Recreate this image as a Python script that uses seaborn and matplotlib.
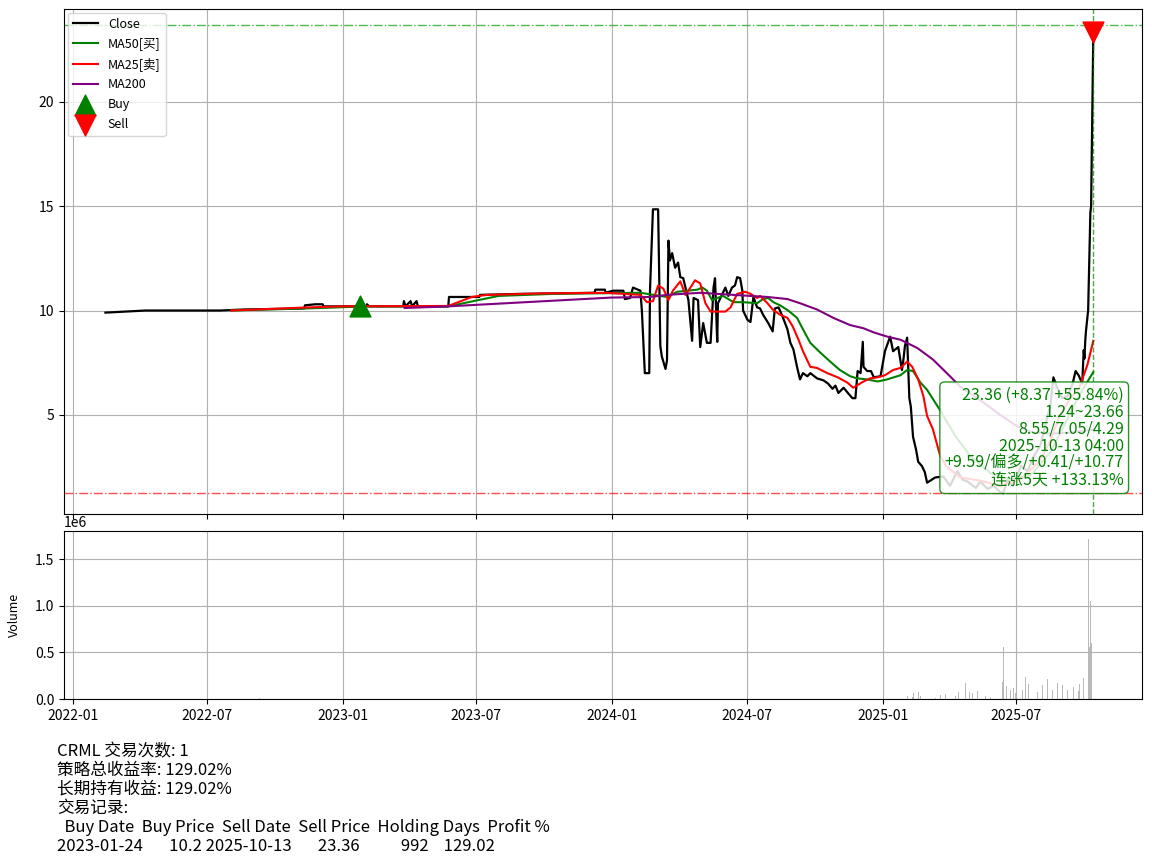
"""CRML price chart with moving averages, trade markers and volume."""
import matplotlib
matplotlib.use("Agg")
import matplotlib.pyplot as plt
import matplotlib.dates as mdates
import pandas as pd
import seaborn as sns

# Close price
close_dates = [
    "2022-02-14", "2022-04-09", "2022-07-19", "2022-08-20", "2022-11-10",
    "2022-11-11", "2022-11-25", "2022-12-05", "2022-12-06", "2023-01-24",
    "2023-02-02", "2023-02-03", "2023-02-06", "2023-03-24", "2023-03-25",
    "2023-03-27", "2023-04-03", "2023-04-05", "2023-04-11", "2023-04-13",
    "2023-05-24", "2023-05-25", "2023-07-05", "2023-07-06", "2023-09-01",
    "2023-12-08", "2023-12-09", "2023-12-22", "2023-12-23",
    "2024-01-02", "2024-01-16", "2024-01-18", "2024-01-25", "2024-01-29",
    "2024-02-08", "2024-02-10", "2024-02-14", "2024-02-20", "2024-02-21",
    "2024-02-25", "2024-03-03", "2024-03-06", "2024-03-08", "2024-03-13",
    "2024-03-15", "2024-03-17", "2024-03-19", "2024-03-22", "2024-03-26",
    "2024-03-30", "2024-04-02", "2024-04-06", "2024-04-13", "2024-04-18",
    "2024-04-20", "2024-04-26", "2024-04-29", "2024-05-03", "2024-05-08",
    "2024-05-13", "2024-05-17", "2024-05-19", "2024-05-22", "2024-05-23",
    "2024-05-29", "2024-06-02", "2024-06-06", "2024-06-11", "2024-06-15",
    "2024-06-18", "2024-06-22", "2024-06-25", "2024-06-26", "2024-07-02",
    "2024-07-06", "2024-07-10", "2024-07-15", "2024-07-19", "2024-07-23",
    "2024-07-30", "2024-08-05", "2024-08-08", "2024-08-13", "2024-08-18",
    "2024-08-25", "2024-08-29", "2024-09-02", "2024-09-07", "2024-09-11",
    "2024-09-15", "2024-09-21", "2024-09-25", "2024-10-04", "2024-10-13",
    "2024-10-19", "2024-10-25", "2024-10-29", "2024-11-02", "2024-11-09",
    "2024-11-16", "2024-11-21", "2024-11-25", "2024-11-28", "2024-12-02",
    "2024-12-05", "2024-12-06", "2024-12-11", "2024-12-16", "2024-12-20",
    "2024-12-29",
    "2025-01-04", "2025-01-08", "2025-01-11", "2025-01-15", "2025-01-22",
    "2025-01-27", "2025-01-29", "2025-01-31", "2025-02-03", "2025-02-06",
    "2025-02-08", "2025-02-11", "2025-02-15", "2025-02-18", "2025-02-23",
    "2025-02-27", "2025-03-02", "2025-03-13", "2025-03-24", "2025-04-02",
    "2025-04-12", "2025-04-19", "2025-04-26", "2025-05-07", "2025-05-13",
    "2025-05-23", "2025-05-31", "2025-06-09", "2025-06-13", "2025-06-19",
    "2025-06-26", "2025-07-07", "2025-07-16", "2025-07-24", "2025-08-02",
    "2025-08-09", "2025-08-16", "2025-08-20", "2025-08-23", "2025-08-25",
    "2025-09-01", "2025-09-08", "2025-09-15", "2025-09-19", "2025-09-23",
    "2025-09-28", "2025-09-30", "2025-10-01", "2025-10-02", "2025-10-03",
    "2025-10-06", "2025-10-07", "2025-10-08", "2025-10-09", "2025-10-10",
    "2025-10-13",
]
close_vals = [
    9.9, 10.0, 10.0, 10.05, 10.1,
    10.25, 10.3, 10.3, 10.2, 10.2,
    10.2, 10.3, 10.2, 10.2, 10.45,
    10.2, 10.45, 10.2, 10.45, 10.2,
    10.2, 10.65, 10.65, 10.75, 10.8,
    10.85, 11.0, 11.0, 10.85,
    10.95, 10.95, 10.55, 10.6, 11.1,
    10.95, 10.0, 7.0, 7.0, 10.95,
    14.85, 14.85, 8.3, 7.8, 7.2,
    7.6, 13.35, 12.4, 12.75, 12.05,
    12.3, 11.6, 11.55, 10.5, 8.55,
    10.6, 10.5, 8.25, 9.4, 8.45,
    8.45, 11.1, 11.55, 8.5, 10.35,
    10.8, 11.1, 10.7, 11.1, 11.2,
    11.6, 11.55, 10.95, 10.0, 9.55,
    9.45, 10.65, 10.15, 10.1, 9.8,
    9.4, 9.0, 10.1, 10.15, 9.75,
    9.1, 8.45, 8.15, 7.3, 6.7,
    7.0, 6.85, 7.0, 6.75, 6.65,
    6.5, 6.25, 6.4, 6.05, 6.3,
    6.0, 5.8, 5.8, 7.1, 7.0,
    8.5, 7.3, 7.1, 7.1, 6.8,
    6.85,
    8.05, 8.45, 8.75, 8.05, 8.25,
    7.15, 7.65, 8.3, 8.7, 5.8,
    5.4, 3.95, 3.35, 2.75, 2.55,
    2.25, 1.75, 2.0, 2.05, 1.6,
    2.3, 1.9, 1.8, 1.5, 1.8,
    1.45, 1.6, 1.3, 1.24, 1.9,
    1.6, 2.55, 2.3, 3.0, 3.5,
    4.5, 5.5, 6.8, 6.5, 6.3,
    5.8, 5.9, 6.5, 7.1, 6.9,
    6.5, 8.1, 7.7, 8.5, 9.0,
    10.02, 11.6, 13.3, 14.7, 14.99,
    23.36,
]

# MA50 (green)
ma50_dates = [
    "2022-08-03", "2022-12-01", "2023-02-01", "2023-05-24", "2023-07-31",
    "2023-10-15", "2024-02-08", "2024-03-15", "2024-03-29", "2024-04-12",
    "2024-04-25", "2024-05-02", "2024-05-08", "2024-05-15", "2024-05-22",
    "2024-05-30", "2024-06-13", "2024-06-26", "2024-07-15", "2024-07-23",
    "2024-07-30", "2024-08-06", "2024-08-15", "2024-08-26", "2024-09-07",
    "2024-09-15", "2024-09-25", "2024-10-08", "2024-10-22", "2024-11-04",
    "2024-11-18", "2024-11-27", "2024-12-11", "2024-12-25", "2025-01-07",
    "2025-01-25", "2025-02-03", "2025-02-11", "2025-02-21", "2025-03-02",
    "2025-03-20", "2025-04-09", "2025-04-30", "2025-05-27", "2025-06-23",
    "2025-07-20", "2025-08-16", "2025-09-05", "2025-09-19", "2025-09-30",
    "2025-10-13",
]
ma50_vals = [
    10.0, 10.12, 10.2, 10.2, 10.7,
    10.8, 10.85, 10.65, 10.9, 10.95,
    11.0, 11.1, 10.95, 10.5, 10.6,
    10.7, 10.4, 10.4, 10.35, 10.55,
    10.6, 10.4, 10.25, 10.0, 9.65,
    9.1, 8.45, 8.0, 7.55, 7.15,
    6.85, 6.75, 6.7, 6.6, 6.7,
    6.9, 7.15, 7.1, 6.55, 6.2,
    5.2, 4.0, 3.0, 2.2, 1.9,
    2.1, 3.2, 4.6, 5.6, 6.3,
    7.05,
]

# MA25 (red)
ma25_dates = [
    "2022-08-03", "2022-11-15", "2023-01-01", "2023-05-24", "2023-06-25",
    "2023-07-15", "2023-10-01", "2023-12-23", "2024-02-08", "2024-02-17",
    "2024-02-25", "2024-03-03", "2024-03-10", "2024-03-17", "2024-03-23",
    "2024-04-02", "2024-04-09", "2024-04-13", "2024-04-22", "2024-04-29",
    "2024-05-06", "2024-05-13", "2024-06-02", "2024-06-09", "2024-06-18",
    "2024-06-29", "2024-07-06", "2024-07-15", "2024-07-19", "2024-07-29",
    "2024-08-05", "2024-08-15", "2024-08-25", "2024-09-01", "2024-09-09",
    "2024-09-15", "2024-09-25", "2024-10-04", "2024-10-18", "2024-11-01",
    "2024-11-14", "2024-11-22", "2024-11-29", "2024-12-06", "2024-12-15",
    "2024-12-25", "2025-01-04", "2025-01-15", "2025-01-25", "2025-02-03",
    "2025-02-10", "2025-02-18", "2025-02-25", "2025-03-02", "2025-03-10",
    "2025-03-20", "2025-03-29", "2025-04-16", "2025-05-13", "2025-06-09",
    "2025-07-06", "2025-08-02", "2025-08-16", "2025-08-29", "2025-09-12",
    "2025-09-24", "2025-10-05", "2025-10-13",
]
ma25_vals = [
    10.0, 10.15, 10.2, 10.22, 10.65,
    10.75, 10.82, 10.85, 10.75, 10.4,
    10.45, 11.2, 11.05, 10.5, 10.95,
    11.4, 10.75, 10.95, 11.45, 11.3,
    10.35, 9.95, 9.95, 10.15, 10.8,
    10.9, 10.8, 10.6, 10.7, 10.35,
    10.05, 9.8, 9.65, 9.25, 8.6,
    8.05, 7.3, 7.25, 7.0, 6.8,
    6.55, 6.3, 6.45, 6.6, 6.75,
    6.8, 6.9, 7.15, 7.25, 7.55,
    7.3, 6.7, 5.9, 4.95, 4.3,
    3.0, 2.5, 2.0, 1.85, 1.6,
    1.9, 2.8, 3.8, 5.0, 5.8,
    6.3, 7.4, 8.55,
]

# MA200 (purple)
ma200_dates = [
    "2023-03-26", "2023-05-24", "2023-12-30", "2024-02-21", "2024-03-15",
    "2024-04-06", "2024-04-29", "2024-06-13", "2024-07-29", "2024-08-25",
    "2024-09-11", "2024-10-04", "2024-10-26", "2024-11-18", "2024-12-06",
    "2024-12-20", "2025-01-07", "2025-01-25", "2025-02-17", "2025-03-10",
    "2025-04-02", "2025-04-16", "2025-05-17", "2025-06-09", "2025-07-02",
    "2025-07-24", "2025-08-16", "2025-09-12", "2025-10-13",
]
ma200_vals = [
    10.12, 10.2, 10.62, 10.65, 10.75,
    10.8, 10.85, 10.75, 10.65, 10.55,
    10.35, 10.05, 9.65, 9.3, 9.15,
    8.95, 8.75, 8.6, 8.2, 7.65,
    6.85, 6.35, 5.6, 5.0, 4.45,
    4.15, 4.1, 4.15, 4.29,
]

# Volume (millions of shares)
vol_dates = [
    "2022-09-11", "2025-02-04", "2025-02-10", "2025-02-12", "2025-02-18",
    "2025-02-21", "2025-03-06", "2025-03-13", "2025-03-20", "2025-03-27",
    "2025-04-02", "2025-04-09", "2025-04-13", "2025-04-23", "2025-04-29",
    "2025-05-03", "2025-05-09", "2025-05-20", "2025-05-27", "2025-06-02",
    "2025-06-12", "2025-06-14", "2025-06-17", "2025-06-23", "2025-06-27",
    "2025-06-30", "2025-07-09", "2025-07-13", "2025-07-17", "2025-07-22",
    "2025-07-29", "2025-08-05", "2025-08-12", "2025-08-19", "2025-08-25",
    "2025-09-01", "2025-09-08", "2025-09-16", "2025-09-23", "2025-09-24",
    "2025-09-30", "2025-10-06", "2025-10-08", "2025-10-09", "2025-10-10",
]
vol_vals = [
    0.01, 0.03, 0.02, 0.06, 0.08,
    0.03, 0.01, 0.01, 0.04, 0.05,
    0.04, 0.03, 0.07, 0.17, 0.08,
    0.06, 0.09, 0.03, 0.02, 0.06,
    0.18, 0.56, 0.14, 0.10, 0.12,
    0.06, 0.10, 0.24, 0.16, 0.08,
    0.08, 0.15, 0.21, 0.10, 0.17,
    0.15, 0.10, 0.13, 0.09, 0.16,
    0.22, 1.71, 0.56, 1.05, 0.60,
]

buy_date, buy_price = "2023-01-24", 10.2
sell_date, sell_price = "2025-10-13", 23.36
price_low, price_high = 1.24, 23.66

info_lines = [
    "23.36 (+8.37 +55.84%)",
    "1.24~23.66",
    "8.55/7.05/4.29",
    "2025-10-13 04:00",
    "+9.59/偏多/+0.41/+10.77",
    "连涨5天 +133.13%",
]
summary_lines = [
    "CRML 交易次数: 1",
    "策略总收益率: 129.02%",
    "长期持有收益: 129.02%",
    "交易记录:",
    "  Buy Date  Buy Price  Sell Date  Sell Price  Holding Days  Profit %",
    "2023-01-24       10.2 2025-10-13       23.36           992    129.02",
]

plt.rcParams['font.family'] = ['Noto Sans CJK SC', 'DejaVu Sans']
plt.rcParams['axes.unicode_minus'] = False

fig = plt.figure(figsize=(11.52, 8.63), dpi=100)
ax = fig.add_axes([0.0556, 0.4044, 0.9358, 0.5852])
ax_vol = fig.add_axes([0.0556, 0.19, 0.9358, 0.1947], sharex=ax)

d = pd.to_datetime
sns.lineplot(x=d(close_dates), y=close_vals, ax=ax, color='black',
             linewidth=1.6, label='Close', estimator=None)
sns.lineplot(x=d(ma50_dates), y=ma50_vals, ax=ax, color='green',
             linewidth=1.5, label='MA50[买]', estimator=None)
sns.lineplot(x=d(ma25_dates), y=ma25_vals, ax=ax, color='red',
             linewidth=1.5, label='MA25[卖]', estimator=None)
sns.lineplot(x=d(ma200_dates), y=ma200_vals, ax=ax, color='purple',
             linewidth=1.5, label='MA200', estimator=None)
ax.scatter(d([buy_date]), [buy_price], marker='^', s=225, color='green',
           label='Buy', zorder=5)
ax.scatter(d([sell_date]), [sell_price], marker='v', s=225, color='red',
           label='Sell', zorder=5)

ax.axhline(price_high, color='#22aa22', linestyle='-.', linewidth=1,
           alpha=0.8)
ax.axhline(price_low, color='red', linestyle='-.', linewidth=1, alpha=0.7)
ax.axvline(d(sell_date), color='green', linestyle='--', linewidth=1,
           alpha=0.7)

ax.text(0.983, 0.05, "\n".join(info_lines), transform=ax.transAxes,
        ha='right', va='bottom', color='green', fontsize=11.5,
        linespacing=1.0,
        bbox=dict(boxstyle='round,pad=0.3', facecolor='white',
                  edgecolor='green', alpha=0.85))

ax.legend(loc='upper left', fontsize=9, borderaxespad=0.3,
          labelspacing=0.55)
ax.grid(True)
ax.set_ylim(0.25, 24.45)
ax.set_yticks([5, 10, 15, 20])
ax.set_xlabel('')
ax.tick_params(labelbottom=False)

# Volume bars
ax_vol.bar(d(vol_dates), [v * 1e6 for v in vol_vals], width=1.2,
           color='gray', alpha=0.55)
ax_vol.set_ylim(0, 1.8e6)
ax_vol.set_ylabel('Volume', fontsize=9)
ax_vol.yaxis.set_label_coords(-0.04, 0.5)
ax_vol.grid(True)
ax_vol.xaxis.set_major_locator(mdates.MonthLocator(bymonth=[1, 7]))
ax_vol.xaxis.set_major_formatter(mdates.DateFormatter('%Y-%m'))
ax_vol.set_xlim(d("2021-12-20"), d("2025-12-18"))

fig.text(0.0495, 0.139, "\n".join(summary_lines), fontsize=12,
         ha='left', va='top', linespacing=1.15)

fig.savefig('out.png', dpi=100)
